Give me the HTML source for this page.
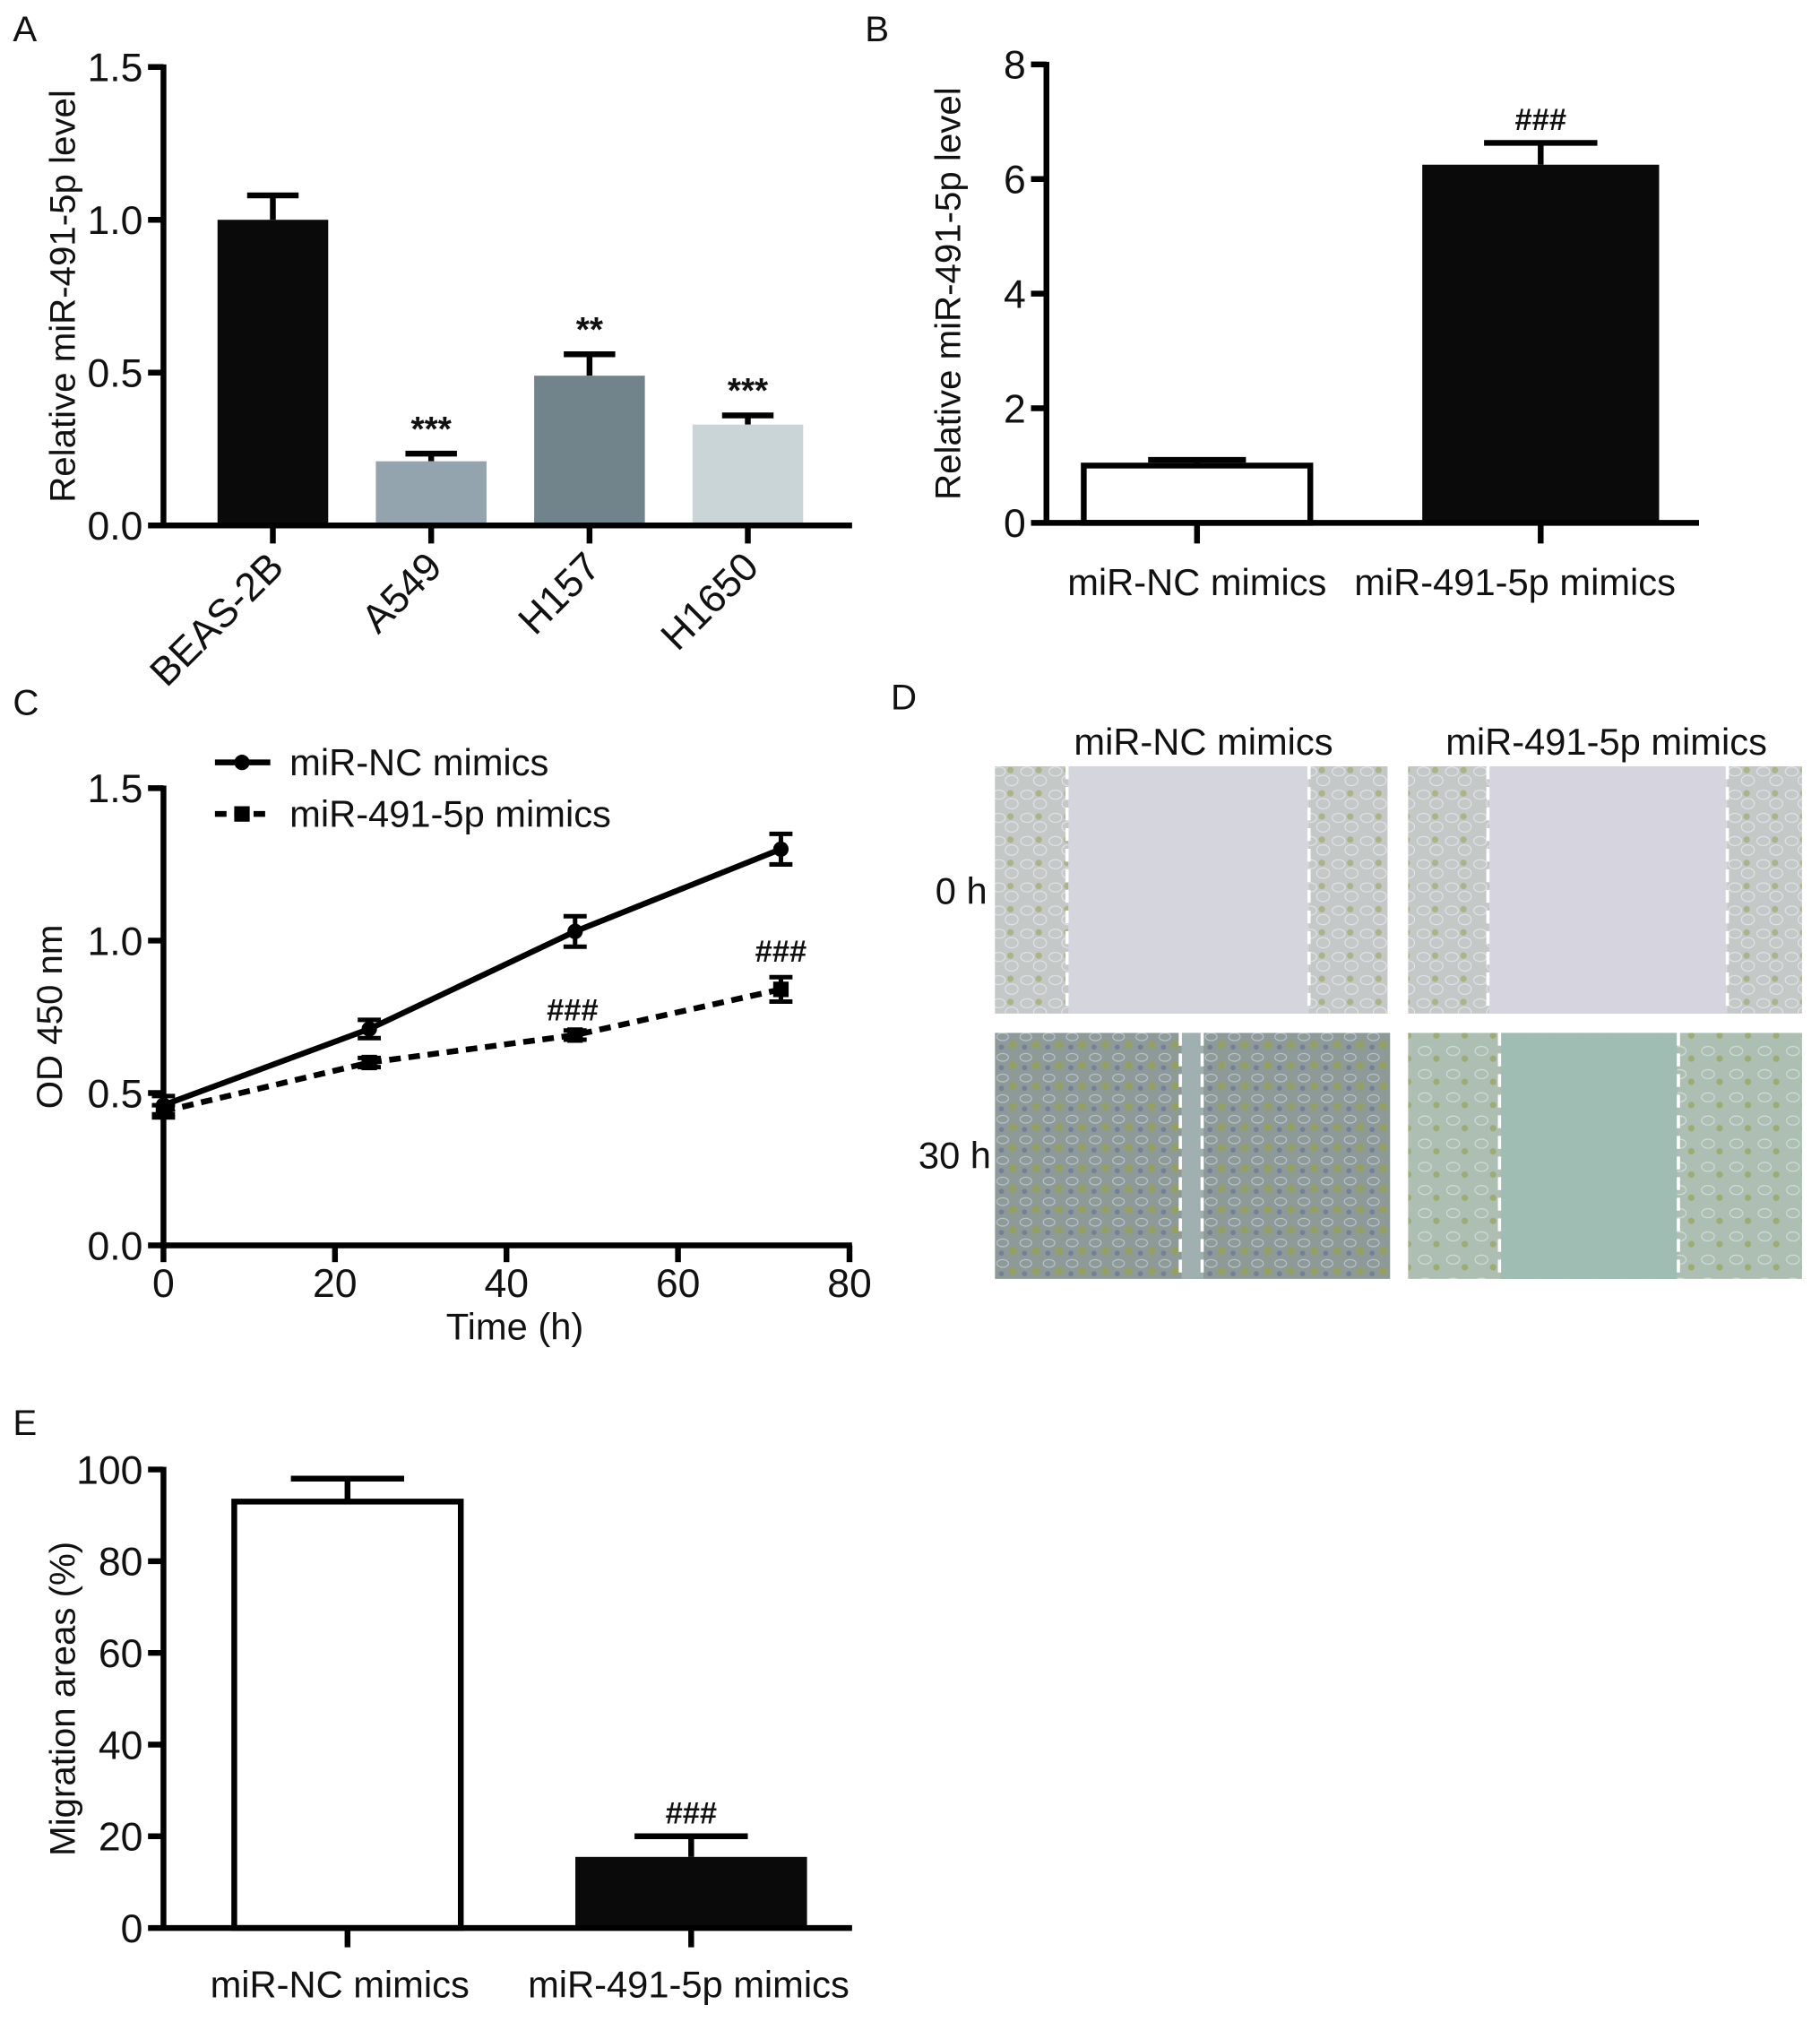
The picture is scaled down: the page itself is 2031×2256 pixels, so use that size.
<!DOCTYPE html>
<html><head><meta charset="utf-8"><style>
html,body{margin:0;padding:0;background:#fff}
svg{display:block}
text{font-family:"Liberation Sans",Arial,sans-serif;fill:#111}
</style></head><body>
<svg id="fig" width="2031" height="2256" viewBox="0 0 1414 1570" preserveAspectRatio="none" xmlns="http://www.w3.org/2000/svg">
<defs>
<pattern id="cellsA" width="22" height="18" patternUnits="userSpaceOnUse">
<rect width="22" height="18" fill="#c4c8c6"/>
<ellipse cx="6" cy="5" rx="5" ry="3.5" fill="none" stroke="#e0e4ec" stroke-width="0.8"/>
<ellipse cx="16" cy="12" rx="5" ry="4" fill="none" stroke="#e0e4ec" stroke-width="0.8"/>
<circle cx="15" cy="4" r="2.5" fill="#aab486"/>
</pattern>
<pattern id="cellsD" width="18" height="16" patternUnits="userSpaceOnUse">
<rect width="18" height="16" fill="#8e9a98"/>
<ellipse cx="5" cy="5" rx="4.5" ry="3" fill="none" stroke="#b8c2cc" stroke-width="0.8"/>
<circle cx="13" cy="11" r="3" fill="#95a060"/>
<circle cx="4" cy="13" r="2" fill="#74809a"/>
</pattern>
<pattern id="cellsG" width="22" height="18" patternUnits="userSpaceOnUse">
<rect width="22" height="18" fill="#adbfb3"/>
<ellipse cx="7" cy="6" rx="5" ry="3.5" fill="none" stroke="#d0dcd8" stroke-width="0.8"/>
<circle cx="16" cy="12" r="2.5" fill="#9dac70"/>
</pattern>
</defs>
<g id="root"></g>
</svg>
<script>
// ---- Panel A data ----
const catA = ["BEAS-2B","A549","H157","H1650"];
const valA = [1.00,0.21,0.49,0.33];
const errA = [0.08,0.025,0.07,0.03];
const sigA = ["","***","**","***"];
const colA = ["#0a0a0a","#94a4ae","#72848b","#c9d5d7"];
const ticksA = [0,0.5,1.0,1.5];
const tickLabA = ["0.0","0.5","1.0","1.5"];
// ---- Panel B data ----
const catB = ["miR-NC mimics","miR-491-5p mimics"];
const valB = [1.0,6.25];
const errB = [0.1,0.38];
const sigB = ["","###"];
const ticksB = [0,2,4,6,8];
// ---- Panel C data ----
const timeC = [0,24,48,72];
const ncC = [0.46,0.71,1.03,1.30];
const ncErr = [0.03,0.03,0.05,0.05];
const miC = [0.44,0.60,0.69,0.84];
const miErr = [0.02,0.015,0.015,0.04];
const sigC = ["","","###","###"];
const ticksCy = [0,0.5,1.0,1.5];
const tickLabCy = ["0.0","0.5","1.0","1.5"];
const ticksCx = [0,20,40,60,80];
// ---- Panel E data ----
const catE = ["miR-NC mimics","miR-491-5p mimics"];
const valE = [93,15.5];
const errE = [5,4.5];
const sigE = ["","###"];
const ticksE = [0,20,40,60,80,100];

const NS="http://www.w3.org/2000/svg";
const root=document.getElementById('root');
function el(tag,attrs,parent,txt){const e=document.createElementNS(NS,tag);for(const k in attrs)e.setAttribute(k,attrs[k]);if(txt!==undefined)e.textContent=txt;(parent||root).appendChild(e);return e;}
function grp(name){const g=el('g',{});return g;}
function lin(d0,d1,r0,r1){return v=>r0+(v-d0)/(d1-d0)*(r1-r0);}
const SW=4.5;

function yAxis(g,x,y,ticks,labs,yTop,yBot,title,titleX){
  el('line',{x1:x,y1:yTop-2,x2:x,y2:yBot+2,stroke:'#000','stroke-width':SW},g);
  ticks.forEach((t,i)=>{const yy=y(t);el('line',{x1:x-12,y1:yy,x2:x,y2:yy,stroke:'#000','stroke-width':SW},g);
    const tx=el('text',{x:x-16,y:yy+11,'text-anchor':'end','font-size':31},g,labs?labs[i]:String(t));
    });
  const tt=el('text',{x:titleX,y:(yTop+yBot)/2,'text-anchor':'middle','font-size':28,transform:`rotate(-90 ${titleX} ${(yTop+yBot)/2})`},g,title);
  
}
function errBar(g,cx,y0,y1,w){el('line',{x1:cx,y1:y0,x2:cx,y2:y1,stroke:'#000','stroke-width':SW},g);el('line',{x1:cx-w,y1:y1,x2:cx+w,y2:y1,stroke:'#000','stroke-width':SW},g);}
function panelLetter(t,x,y){const e=el('text',{x:x,y:y,'font-size':28},root,t);}

// Panel A
(function(){
  const g=grp('panel-a-chart');
  const y=lin(0,1.5,408,52);
  const x0=127,x1=662,bw=86,cx=[212,335,458,581];
  catA.forEach((c,i)=>{
    errBar(g,cx[i],y(valA[i]),y(valA[i]+errA[i]),20);
    const r=el('rect',{x:cx[i]-bw/2,y:y(valA[i]),width:bw,height:408-y(valA[i]),fill:colA[i]},g);
    
    if(sigA[i]){const s=el('text',{x:cx[i],y:y(valA[i]+errA[i])-10,'text-anchor':'middle','font-size':27,'font-weight':'bold'},g,sigA[i]);}
    el('line',{x1:cx[i],y1:408,x2:cx[i],y2:422,stroke:'#000','stroke-width':SW},g);
    const lx=cx[i]+10,ly=442;
    const t=el('text',{x:lx,y:ly,'text-anchor':'end','font-size':31,transform:`rotate(-45 ${lx} ${ly})`},g,c);
    
  });
  el('line',{x1:x0,y1:408,x2:x1,y2:408,stroke:'#000','stroke-width':SW},g);
  yAxis(g,x0,y,ticksA,tickLabA,52,408,'Relative miR-491-5p level',58);
})();
panelLetter('A',10,32);

// Panel B
(function(){
  const g=grp('panel-b-chart');
  const y=lin(0,8,406,50);
  const x0=813,x1=1320,cx=[930,1197],bw=[180,184];
  catB.forEach((c,i)=>{
    errBar(g,cx[i],y(valB[i]),y(valB[i]+errB[i]),i?44:38);
    const r=el('rect',{x:cx[i]-bw[i]/2+(i?0:2),y:y(valB[i]),width:bw[i]-(i?0:4),height:406-y(valB[i]),fill:i?'#0a0a0a':'#fff',stroke:'#000','stroke-width':i?0:SW},g);
    
    if(sigB[i]){const s=el('text',{x:cx[i],y:y(valB[i]+errB[i])-10,'text-anchor':'middle','font-size':24,'font-family':'Liberation Serif','font-weight':'bold'},g,sigB[i]);}
    el('line',{x1:cx[i],y1:406,x2:cx[i],y2:422,stroke:'#000','stroke-width':SW},g);
    const t=el('text',{x:cx[i]-(i?20:0),y:462,'text-anchor':'middle','font-size':29},g,c);
  });
  el('line',{x1:x0,y1:406,x2:x1,y2:406,stroke:'#000','stroke-width':SW},g);
  yAxis(g,x0,y,ticksB,null,50,406,'Relative miR-491-5p level',746);
})();
panelLetter('B',672,32);

// Panel C
(function(){
  const g=grp('panel-c-chart');
  const y=lin(0,1.5,967,612), x=lin(0,80,127,660);
  el('line',{x1:127,y1:967,x2:662,y2:967,stroke:'#000','stroke-width':SW},g);
  ticksCx.forEach(t=>{el('line',{x1:x(t),y1:967,x2:x(t),y2:980,stroke:'#000','stroke-width':SW},g);
    const tx=el('text',{x:x(t),y:1007,'text-anchor':'middle','font-size':31},g,String(t));});
  const xt=el('text',{x:400,y:1040,'text-anchor':'middle','font-size':29},g,'Time (h)');
  yAxis(g,127,y,ticksCy,tickLabCy,612,967,'OD 450 nm',48);
  function series(vals,errs,dash,marker,name){
    const sg=el('g',{},g);
    el('polyline',{points:timeC.map((t,i)=>x(t)+','+y(vals[i])).join(' '),fill:'none',stroke:'#000','stroke-width':SW,'stroke-dasharray':dash},sg);
    timeC.forEach((t,i)=>{
      el('line',{x1:x(t),y1:y(vals[i]-errs[i]),x2:x(t),y2:y(vals[i]+errs[i]),stroke:'#000','stroke-width':3.5},sg);
      el('line',{x1:x(t)-9,y1:y(vals[i]-errs[i]),x2:x(t)+9,y2:y(vals[i]-errs[i]),stroke:'#000','stroke-width':3.5},sg);
      el('line',{x1:x(t)-9,y1:y(vals[i]+errs[i]),x2:x(t)+9,y2:y(vals[i]+errs[i]),stroke:'#000','stroke-width':3.5},sg);
      const m=marker==='c'?el('circle',{cx:x(t),cy:y(vals[i]),r:6,fill:'#000'},sg):el('rect',{x:x(t)-6,y:y(vals[i])-6,width:12,height:12,fill:'#000'},sg);
      
    });
  }
  series(ncC,ncErr,'none','c','series-mir-nc');
  series(miC,miErr,'9,6','s','series-mir-491-5p');
  timeC.forEach((t,i)=>{if(sigC[i]){const s=el('text',{x:x(t)-(i===2?2:0),y:y(miC[i]+miErr[i])-(i===2?8:12),'text-anchor':'middle','font-size':24,'font-family':'Liberation Serif','font-weight':'bold'},g,sigC[i]);}});
  const lg=el('g',{},g);
  el('line',{x1:167,y1:592,x2:210,y2:592,stroke:'#000','stroke-width':SW},lg);el('circle',{cx:188,cy:592,r:6,fill:'#000'},lg);
  const l1=el('text',{x:225,y:602,'font-size':29},lg,'miR-NC mimics');
  el('line',{x1:167,y1:632,x2:210,y2:632,stroke:'#000','stroke-width':SW,'stroke-dasharray':'9,6'},lg);el('rect',{x:182,y:626,width:12,height:12,fill:'#000'},lg);
  const l2=el('text',{x:225,y:642,'font-size':29},lg,'miR-491-5p mimics');
})();
panelLetter('C',10,555);

// Panel D (micrographs)
(function(){
  const g=grp('panel-d-micrographs');
  function img(x,y,w,h,name,bg,regions,dashes){
    const ig=el('g',{},g);
    el('rect',{x:x,y:y,width:w,height:h,fill:bg},ig);
    regions.forEach(r=>el('rect',{x:r[0],y:y,width:r[1]-r[0],height:h,fill:r[2]},ig));
    dashes.forEach(dx=>el('line',{x1:dx,y1:y,x2:dx,y2:y+h,stroke:'#fff','stroke-width':2.5,'stroke-dasharray':'10,6'},ig));
  }
  img(773,595,305,192,'micrograph-nc-0h','url(#cellsA)',[[830,1017,'#d4d5dd']],[829,1017]);
  img(1094,595,306,192,'micrograph-mimics-0h','url(#cellsA)',[[1157,1342,'#d6d5df']],[1156,1342]);
  img(773,802,307,191,'micrograph-nc-30h','url(#cellsD)',[[918,935,'#a0b0b0']],[917,934]);
  img(1094,802,306,191,'micrograph-mimics-30h','url(#cellsG)',[[1166,1303,'#9fbdb2']],[1165,1304]);
  const t1=el('text',{x:935,y:586,'text-anchor':'middle','font-size':29},g,'miR-NC mimics');
  const t2=el('text',{x:1248,y:586,'text-anchor':'middle','font-size':29},g,'miR-491-5p mimics');
  const r1=el('text',{x:767,y:702,'text-anchor':'end','font-size':29},g,'0 h');
  const r2=el('text',{x:770,y:907,'text-anchor':'end','font-size':29},g,'30 h');
})();
panelLetter('D',692,551);

// Panel E
(function(){
  const g=grp('panel-e-chart');
  const y=lin(0,100,1497,1141);
  const cx=[270,537],bw=180;
  catE.forEach((c,i)=>{
    errBar(g,cx[i],y(valE[i]),y(valE[i]+errE[i]),44);
    const r=el('rect',{x:cx[i]-bw/2+(i?0:2),y:y(valE[i]),width:bw-(i?0:4),height:1497-y(valE[i]),fill:i?'#0a0a0a':'#fff',stroke:'#000','stroke-width':i?0:SW},g);
    
    if(sigE[i]){const s=el('text',{x:cx[i],y:y(valE[i]+errE[i])-10,'text-anchor':'middle','font-size':24,'font-family':'Liberation Serif','font-weight':'bold'},g,sigE[i]);}
    el('line',{x1:cx[i],y1:1497,x2:cx[i],y2:1512,stroke:'#000','stroke-width':SW},g);
    const t=el('text',{x:cx[i]-(i?2:6),y:1551,'text-anchor':'middle','font-size':29},g,c);
  });
  el('line',{x1:127,y1:1497,x2:662,y2:1497,stroke:'#000','stroke-width':SW},g);
  yAxis(g,127,y,ticksE,null,1141,1497,'Migration areas (%)',58);
})();
panelLetter('E',10,1114);
</script>
</body></html>
